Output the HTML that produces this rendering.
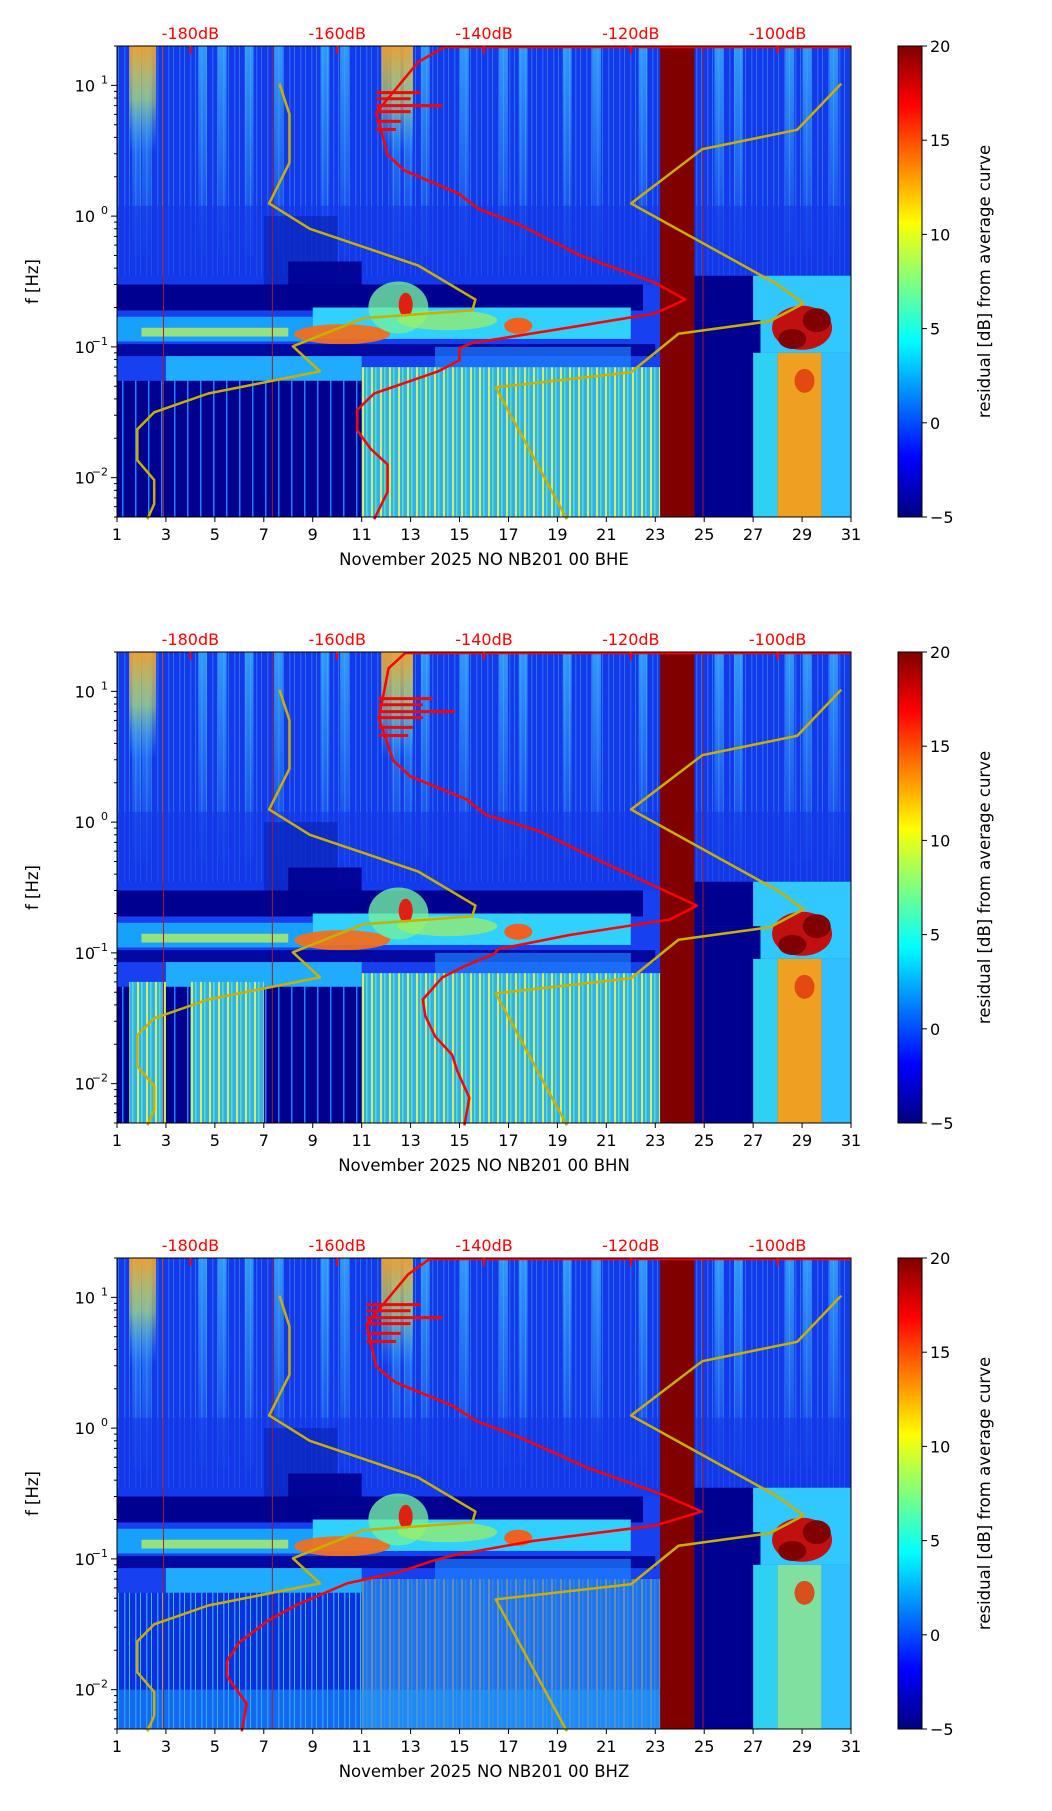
<!DOCTYPE html>
<html><head><meta charset="utf-8">
<style>
html,body{margin:0;padding:0;background:#fff;}
body{width:1052px;height:1806px;overflow:hidden;font-family:"Liberation Sans","DejaVu Sans",sans-serif;}
svg text{font-family:"DejaVu Sans","Liberation Sans",sans-serif;}
</style></head>
<body>
<svg id="fig" width="1052" height="1806" viewBox="0 0 1052 1806" xmlns="http://www.w3.org/2000/svg">
<defs>
<linearGradient id="jet" x1="0" y1="1" x2="0" y2="0">
<stop offset="0" stop-color="#00007f"/><stop offset="0.125" stop-color="#0000ff"/>
<stop offset="0.375" stop-color="#00ffff"/><stop offset="0.625" stop-color="#ffff00"/>
<stop offset="0.875" stop-color="#ff0000"/><stop offset="1" stop-color="#7f0000"/>
</linearGradient>
<linearGradient id="topglow" x1="0" y1="0" x2="0" y2="1">
<stop offset="0" stop-color="#f0a030" stop-opacity="0.95"/><stop offset="0.5" stop-color="#c0e060" stop-opacity="0.6"/><stop offset="1" stop-color="#40c0ff" stop-opacity="0"/>
</linearGradient>
<linearGradient id="streakfade" x1="0" y1="0" x2="0" y2="1">
<stop offset="0" stop-color="#40c0ff" stop-opacity="0.7"/><stop offset="1" stop-color="#40c0ff" stop-opacity="0.05"/>
</linearGradient>
<pattern id="stripesY" width="9" height="10" patternUnits="userSpaceOnUse">
<rect width="9" height="10" fill="#2fb0ff"/><rect x="2" width="2" height="10" fill="#d8f050"/><rect x="6" width="1.5" height="10" fill="#60e0a0"/>
</pattern>
<pattern id="stripesB" width="11" height="10" patternUnits="userSpaceOnUse">
<rect width="11" height="10" fill="#0a30e0"/><rect x="3" width="1.5" height="10" fill="#3090ff"/><rect x="8" width="1" height="10" fill="#40c0e0"/>
</pattern>
<pattern id="stripesN" width="13" height="10" patternUnits="userSpaceOnUse">
<rect width="13" height="10" fill="#00008f"/><rect x="5" width="1.5" height="10" fill="#2080ff"/>
</pattern>
</defs>
</svg>
<script>
// ---- data ----
const dayTicks = [1,3,5,7,9,11,13,15,17,19,21,23,25,27,29,31];
const dbTicks = [-180,-160,-140,-120,-100];
const cbTicks = [-5,0,5,10,15,20];
const yDecades = [1,0,-1,-2];
// Noise model curves (day-axis units, frequency Hz)
const lowModelDay = [7.64,8.05,8.05,7.22,8.88,13.30,15.65,15.52,11.09,8.19,9.29,4.73,2.52,1.83,1.83,2.52,2.52,2.24];
const lowModelF   = [10.3,6.0,2.56,1.25,0.80,0.42,0.23,0.19,0.166,0.101,0.065,0.044,0.0316,0.0234,0.0136,0.0096,0.0063,0.0048];
const highModelDay = [30.6,28.8,24.92,22.01,28.0,29.07,27.68,23.95,22.01,16.48,19.39];
const highModelF   = [10.3,4.57,3.25,1.25,0.30,0.215,0.157,0.126,0.064,0.049,0.0048];
// Mean PSD curves per channel (day-axis units)
const redF = [19.8,15,6.2,2.94,2.23,1.49,1.13,0.86,0.5,0.31,0.23,0.18,0.137,0.107,0.098,0.079,0.065,0.044,0.033,0.023,0.0166,0.0126,0.0078,0.0048];
const redBHE = [14.4,13.3,11.6,12.06,12.75,14.96,15.79,17.45,19.94,22.98,24.23,22.98,19.11,15.52,15.0,15.0,14.13,11.51,10.82,10.82,11.37,12.06,12.06,11.51];
const redBHN = [12.8,12.1,11.7,12.3,13.0,15.3,16.1,18.2,20.8,23.2,24.7,23.6,19.5,16.6,16.4,15.2,14.3,13.5,13.6,14.0,14.7,14.9,15.4,15.2];
const redBHZ = [13.8,12.9,11.2,11.6,12.4,14.7,15.7,17.4,20.2,23.3,24.9,23.0,18.0,14.8,14.0,12.5,10.4,8.3,7.1,6.0,5.5,5.5,6.3,6.1];
const channels = ["BHE","BHN","BHZ"];
const panelTops = [46,652,1258];

// ---- layout ----
const AX0=117, AX1=851, PH=471, LTOP=Math.log10(20), LBOT=Math.log10(0.005);
const NS="http://www.w3.org/2000/svg";
const svg=document.getElementById('fig');
function X(d){return AX0+(d-1)/30*(AX1-AX0);}
function dbToDay(db){return 4+(db+180)*0.3;}
function mk(tag,attrs,parent){const e=document.createElementNS(NS,tag);for(const k in attrs)e.setAttribute(k,attrs[k]);(parent||svg).appendChild(e);return e;}

function panel(pi){
  const top=panelTops[pi];
  const Y=f=>top+(LTOP-Math.log10(f))/(LTOP-LBOT)*PH;
  const g=mk('g',{});
  
  
  const R=(d0,d1,f0,f1,fill,op)=>{const r=mk('rect',{x:X(d0),y:Y(f1),width:X(d1)-X(d0),height:Y(f0)-Y(f1),fill:fill},g);if(op)r.setAttribute('opacity',op);return r;};
  const E=(d,f,rx,ry,fill,op)=>mk('ellipse',{cx:X(d),cy:Y(f),rx:rx,ry:ry,fill:fill,opacity:op||1},g);
  // base
  R(1,31,0.005,20,'#1640f0');
  R(1,31,0.35,20,'url(#stripesB)');
  R(1,31,0.35,20,'#1a40f0',0.6);
  // upper streak highlights
  [1.8,2.2,4.5,5.3,6.4,7.6,9.5,10.3,12.4,12.9,13.6,15.2,16.8,17.6,19.4,20.6,22.5,25.6,26.4,28.5,29.2,30.3].forEach(d=>{
    R(d-0.18,d+0.18,0.5,20,'url(#streakfade)');
  });
  R(1.5,2.6,3,20,'url(#topglow)');
  R(11.8,13.1,3,20,'url(#topglow)');
  // mid transition
  R(1,31,0.3,1.2,'#1438e8',0.6);
  R(7,10,0.3,1.0,'#0820b0',0.6);
  // navy band
  R(1,22.5,0.19,0.3,'#000090');
  R(8,11,0.28,0.45,'#000090',0.9);
  R(24.6,27,0.16,0.35,'#000090');
  // activity band 0.1-0.2
  R(1,9,0.11,0.17,'#18a0ff');
  R(9,22,0.115,0.2,'#30d0ff');
  R(2,8,0.12,0.14,'#b8f060',0.8);
  E(10.2,0.125,48,10,'#f07020',0.95);
  E(12.5,0.2,30,26,'#70f0a0',0.8);
  E(12.8,0.21,7,12,'#e02010');
  E(17.4,0.145,14,8,'#f06020');
  E(14.5,0.16,50,10,'#a0f060',0.7);
  R(27,31,0.09,0.35,'#30c8ff');
  // navy gaps
  R(1,23,0.085,0.105,'#000090',0.85);
  R(24.6,27.3,0.005,0.16,'#000090');
  // cyan band 0.055-0.08
  R(3,11,0.055,0.085,'#20b8ff',0.9);
  R(14,22,0.07,0.1,'#2080ff',0.7);
  // low region
  if(pi<2){R(1,11,0.005,0.055,'url(#stripesN)');}
  else{R(1,11,0.005,0.055,'url(#stripesB)');}
  R(11,23.2,0.005,0.07,'url(#stripesY)');
  if(pi===2){R(11,23.2,0.005,0.07,'#1040f0',0.55);R(1,23.2,0.005,0.01,'#20a0ff',0.5);}
  if(pi===1){R(4,7,0.005,0.06,'url(#stripesY)');R(1.5,3,0.005,0.06,'url(#stripesY)');}
  R(27,28,0.005,0.09,'#30d0f0');
  R(28,29.8,0.005,0.09,pi===2?'#80e0a0':'#f0a020');
  R(29.8,31,0.005,0.09,'#30c0ff');
  // hot spot
  E(29,0.14,30,22,'#c01010');
  E(28.6,0.115,14,10,'#800000');
  E(29.6,0.16,14,12,'#800000');
  E(29.1,0.055,10,12,'#e04010',0.9);
  // dark red column (data gap)
  R(23.2,24.6,0.005,20,'#800000');
  // thin vertical lines
  [2.9,7.35,24.95].forEach(d=>{mk('line',{x1:X(d),x2:X(d),y1:top,y2:top+PH,stroke:'#a02020','stroke-width':1},g);});
  // noise model lines
  const poly=(ds,fs,col,w,name)=>{const p=mk('polyline',{points:ds.map((d,i)=>X(d)+','+Y(fs[i])).join(' '),fill:'none',stroke:col,'stroke-width':w,'stroke-linejoin':'round'},g);
    return p;};
  poly(lowModelDay,lowModelF,'#c8b000',2.5,'low-noise-model-curve');
  poly(highModelDay,highModelF,'#c8b000',2.5,'high-noise-model-curve');
  const red=[redBHE,redBHN,redBHZ][pi];
  poly(red,redF,'#ff0000',2.5,'mean-psd-curve');
  // red spikes near 5-10 Hz
  [[8.8,13.4],[7.9,13.0],[7.0,14.3],[6.3,13.0],[5.3,12.6],[4.6,12.4]].forEach(s=>{
    mk('line',{x1:X(red[2]),x2:X(s[1]-(pi===1?-0.5:0)),y1:Y(s[0]),y2:Y(s[0]),stroke:'#ff0000','stroke-width':3},g);
  });
  mk('line',{x1:X(red[0]),x2:X(31),y1:top+1,y2:top+1,stroke:'#ff0000','stroke-width':2.5},g);
  // frame
  mk('rect',{x:AX0,y:top,width:AX1-AX0,height:PH,fill:'none',stroke:'#000','stroke-width':1},g);
  // top dB axis
  dbTicks.forEach(db=>{
    const x=X(dbToDay(db));
    mk('line',{x1:x,x2:x,y1:top,y2:top+8,stroke:'#ff0000','stroke-width':2},g);
    const t=mk('text',{x:x,y:top-7,'text-anchor':'middle','font-size':16,fill:'#ff0000'},g);
    t.textContent=db+'dB';
    
  });
  // x ticks
  dayTicks.forEach(d=>{
    const x=X(d);
    mk('line',{x1:x,x2:x,y1:top+PH,y2:top+PH+5,stroke:'#000'},g);
    const t=mk('text',{x:x,y:top+PH+23,'text-anchor':'middle','font-size':16,fill:'#000'},g);
    t.textContent=d;
    
  });
  const xl=mk('text',{x:(AX0+AX1)/2,y:top+PH+48,'text-anchor':'middle','font-size':16.5,fill:'#000'},g);
  xl.textContent='November 2025 NO NB201 00 '+channels[pi];
  
  // y ticks
  yDecades.forEach(e=>{
    const y=Y(Math.pow(10,e));
    mk('line',{x1:AX0-6,x2:AX0,y1:y,y2:y,stroke:'#000'},g);
    const t=mk('text',{x:AX0-22,y:y+6,'text-anchor':'end','font-size':16,fill:'#000'},g);
    t.textContent='10';
    
    const s=mk('text',{x:AX0-9,y:y-2,'text-anchor':'end','font-size':11,fill:'#000'},g);
    s.textContent=e<0?'\u2212'+(-e):String(e);
    for(let m=2;m<10;m++){const f=m*Math.pow(10,e-1);if(f>=0.005&&f<=20){const yy=Y(f);mk('line',{x1:AX0-3,x2:AX0,y1:yy,y2:yy,stroke:'#000'},g);}}
    for(let m=2;m<10;m++){const f=m*Math.pow(10,e);if(e===1&&f<=20){const yy=Y(f);mk('line',{x1:AX0-3,x2:AX0,y1:yy,y2:yy,stroke:'#000'},g);}}
  });
  const yl=mk('text',{x:0,y:0,'text-anchor':'middle','font-size':16.5,fill:'#000',transform:'translate(38,'+(top+PH/2)+') rotate(-90)'},g);
  yl.textContent='f [Hz]';
  
  // colorbar
  const cb=mk('rect',{x:898,y:top,width:24,height:PH,fill:'url(#jet)',stroke:'#000','stroke-width':1},g);
  
  cbTicks.forEach(v=>{
    const y=top+PH-(v+5)/25*PH;
    mk('line',{x1:922,x2:927,y1:y,y2:y,stroke:'#000'},g);
    const t=mk('text',{x:930,y:y+6,'font-size':16,fill:'#000'},g);
    t.textContent=v<0?'\u2212'+(-v):String(v);
    
  });
  const cl=mk('text',{x:0,y:0,'text-anchor':'middle','font-size':16.5,fill:'#000',transform:'translate(990,'+(top+PH/2)+') rotate(-90)'},g);
  cl.textContent='residual [dB] from average curve';
  
}
[0,1,2].forEach(panel);
</script>
</body></html>
